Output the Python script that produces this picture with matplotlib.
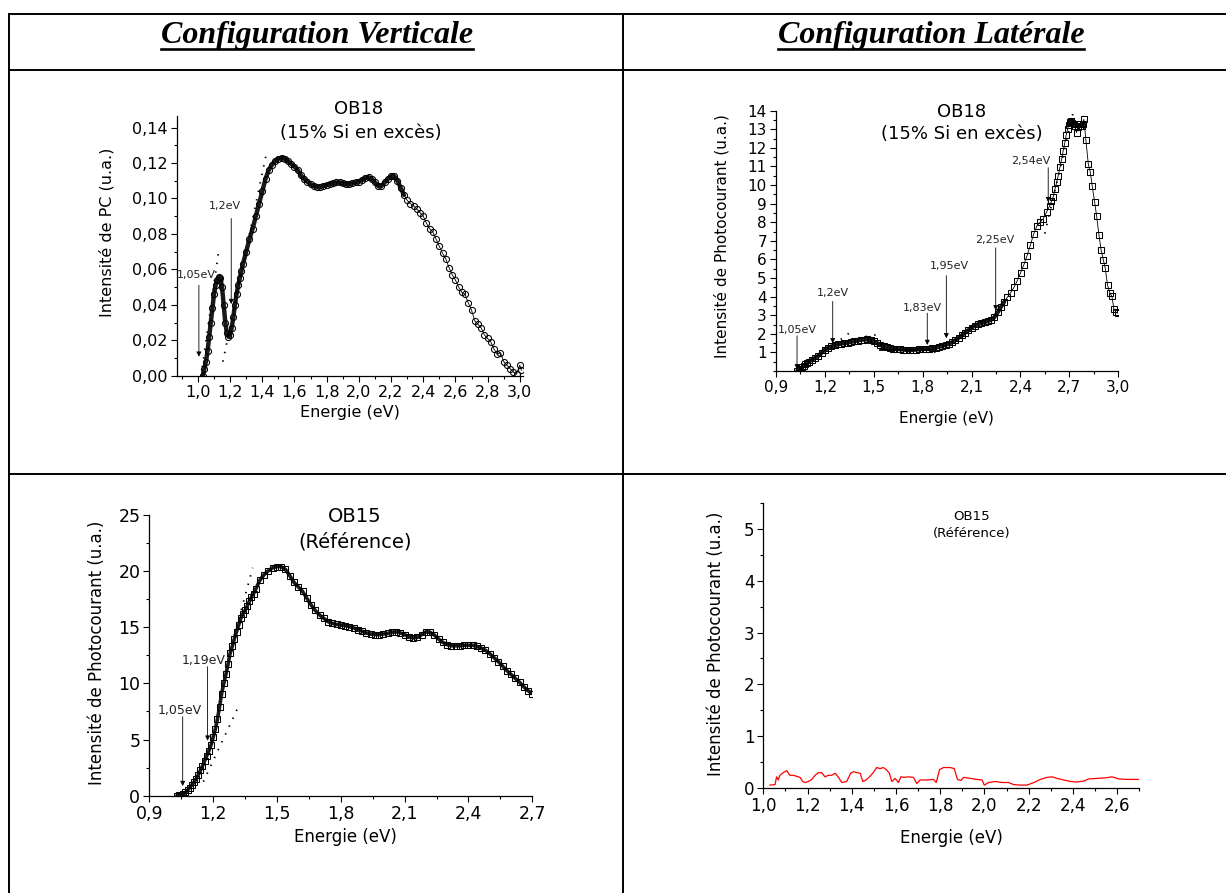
import numpy as np
import matplotlib
matplotlib.use('Agg')
import matplotlib.pyplot as plt
from matplotlib.lines import Line2D
from matplotlib.ticker import MultipleLocator, FixedLocator, FuncFormatter

# OB18 configuration verticale (intensité de PC)
e_v18 = [1.03, 1.04, 1.05, 1.06, 1.07, 1.08, 1.09, 1.10, 1.11, 1.12, 1.13, 1.14, 1.15, 1.16,
         1.17, 1.18, 1.19, 1.20, 1.21, 1.22, 1.23, 1.24, 1.25, 1.26, 1.27, 1.28, 1.30, 1.32,
         1.34, 1.36, 1.38, 1.40, 1.42, 1.44, 1.46, 1.48, 1.50, 1.52, 1.54, 1.56, 1.58, 1.60,
         1.62, 1.64, 1.66, 1.68, 1.70, 1.72, 1.74, 1.76, 1.78, 1.80, 1.82, 1.84, 1.86, 1.88,
         1.90, 1.92, 1.94, 1.96, 1.98, 2.00, 2.02, 2.04, 2.06, 2.08, 2.10, 2.12, 2.14, 2.16,
         2.18, 2.20, 2.22, 2.24, 2.26, 2.28, 2.30, 2.32, 2.34, 2.36, 2.38, 2.40, 2.42, 2.44,
         2.46, 2.48, 2.50, 2.52, 2.54, 2.56, 2.58, 2.60, 2.62, 2.64, 2.66, 2.68, 2.70, 2.72,
         2.74, 2.76, 2.78, 2.80, 2.82, 2.84, 2.86, 2.88, 2.90, 2.92, 2.94, 2.96, 2.98, 3.00, 3.01]
i_v18 = [0.000, 0.004, 0.008, 0.014, 0.022, 0.030, 0.038, 0.046, 0.051, 0.054, 0.0555, 0.055,
         0.050, 0.040, 0.030, 0.024, 0.022, 0.023, 0.027, 0.033, 0.040, 0.046, 0.051, 0.055,
         0.059, 0.063, 0.070, 0.077, 0.083, 0.090, 0.097, 0.104, 0.111, 0.116, 0.119, 0.121,
         0.1225, 0.123, 0.1225, 0.121, 0.1195, 0.118, 0.116, 0.113, 0.111, 0.1095, 0.108, 0.107,
         0.1065, 0.1065, 0.107, 0.1075, 0.108, 0.1085, 0.109, 0.109, 0.1085, 0.108, 0.108,
         0.1085, 0.109, 0.1095, 0.1105, 0.1115, 0.112, 0.111, 0.109, 0.107, 0.107, 0.109, 0.111,
         0.1125, 0.1125, 0.110, 0.106, 0.102, 0.099, 0.097, 0.096, 0.094, 0.092, 0.090, 0.086,
         0.083, 0.081, 0.077, 0.073, 0.069, 0.066, 0.061, 0.057, 0.054, 0.050, 0.047, 0.046,
         0.041, 0.037, 0.031, 0.029, 0.027, 0.023, 0.021, 0.019, 0.015, 0.012, 0.013, 0.008,
         0.006, 0.004, 0.002, 0.001, 0.006, 0.003]

# OB18 configuration latérale
e_l18 = [1.03, 1.04, 1.05, 1.06, 1.07, 1.08, 1.09, 1.10, 1.12, 1.14, 1.16, 1.18, 1.20, 1.22,
         1.24, 1.26, 1.28, 1.30, 1.32, 1.34, 1.36, 1.38, 1.40, 1.42, 1.44, 1.46, 1.48, 1.50,
         1.52, 1.54, 1.56, 1.58, 1.60, 1.62, 1.64, 1.66, 1.68, 1.70, 1.72, 1.74, 1.76, 1.78,
         1.80, 1.82, 1.84, 1.86, 1.88, 1.90, 1.92, 1.94, 1.96, 1.98, 2.00, 2.02, 2.04, 2.06,
         2.08, 2.10, 2.12, 2.14, 2.16, 2.18, 2.20, 2.22, 2.24, 2.26, 2.28, 2.30, 2.32, 2.34,
         2.36, 2.38, 2.40, 2.42, 2.44, 2.46, 2.48, 2.50, 2.52, 2.54, 2.56, 2.58, 2.59, 2.60,
         2.611, 2.622, 2.631, 2.642, 2.652, 2.662, 2.672, 2.68, 2.689, 2.696, 2.703, 2.711,
         2.719, 2.727, 2.734, 2.744, 2.751, 2.758, 2.767, 2.775, 2.782, 2.789, 2.801, 2.816,
         2.828, 2.84, 2.855, 2.867, 2.881, 2.894, 2.908, 2.92, 2.934, 2.949, 2.961, 2.973,
         2.986, 2.996]
i_l18 = [0.00, 0.05, 0.12, 0.20, 0.28, 0.36, 0.44, 0.50, 0.60, 0.70, 0.82, 0.98, 1.15, 1.25,
         1.32, 1.38, 1.43, 1.47, 1.50, 1.53, 1.56, 1.60, 1.64, 1.67, 1.69, 1.70, 1.67, 1.60,
         1.50, 1.40, 1.33, 1.28, 1.24, 1.21, 1.19, 1.17, 1.15, 1.13, 1.12, 1.13, 1.15, 1.17,
         1.18, 1.19, 1.21, 1.23, 1.26, 1.30, 1.35, 1.40, 1.46, 1.55, 1.66, 1.78, 1.92, 2.06,
         2.20, 2.33, 2.44, 2.52, 2.58, 2.63, 2.68, 2.76, 2.90, 3.15, 3.45, 3.72, 3.97, 4.22,
         4.50, 4.85, 5.27, 5.70, 6.20, 6.75, 7.35, 7.80, 8.00, 8.20, 8.55, 8.90, 9.14, 9.35,
         9.77, 10.15, 10.49, 10.95, 11.38, 11.85, 12.28, 12.70, 13.00, 13.25, 13.40, 13.45,
         13.36, 13.30, 13.18, 12.82, 13.10, 13.27, 13.20, 13.18, 13.30, 13.54, 12.43, 11.12,
         10.70, 9.95, 9.08, 8.33, 7.34, 6.53, 5.99, 5.52, 4.62, 4.19, 4.01, 3.33,
         3.15, 3.11]

# OB15 configuration verticale
e_v15 = [1.03, 1.04, 1.05, 1.06, 1.07, 1.08, 1.09, 1.10, 1.11, 1.12, 1.13, 1.14, 1.15, 1.16,
         1.17, 1.18, 1.19, 1.20, 1.21, 1.22, 1.23, 1.24, 1.25, 1.26, 1.27, 1.28, 1.29, 1.30,
         1.31, 1.32, 1.33, 1.34, 1.35, 1.36, 1.37, 1.38, 1.39, 1.40, 1.42, 1.44, 1.46, 1.48,
         1.50, 1.52, 1.54, 1.56, 1.58, 1.60, 1.62, 1.64, 1.66, 1.68, 1.70, 1.72, 1.74, 1.76,
         1.78, 1.80, 1.82, 1.84, 1.86, 1.88, 1.90, 1.92, 1.94, 1.96, 1.98, 2.00, 2.02, 2.04,
         2.06, 2.08, 2.10, 2.12, 2.14, 2.16, 2.18, 2.20, 2.22, 2.24, 2.26, 2.28, 2.30, 2.32,
         2.34, 2.36, 2.38, 2.40, 2.42, 2.44, 2.46, 2.48, 2.50, 2.52, 2.54, 2.56, 2.58, 2.60,
         2.62, 2.64, 2.66, 2.68, 2.70]
i_v15 = [0.00, 0.03, 0.08, 0.15, 0.30, 0.50, 0.72, 0.95, 1.20, 1.50, 1.85, 2.25, 2.65, 3.10,
         3.55, 4.00, 4.50, 5.20, 5.90, 6.80, 7.90, 9.10, 10.00, 10.80, 11.70, 12.70, 13.30,
         14.00, 14.60, 15.20, 15.80, 16.20, 16.50, 16.90, 17.30, 17.70, 18.00, 18.40, 19.20,
         19.70, 20.05, 20.30, 20.40, 20.40, 20.15, 19.60, 19.00, 18.60, 18.20, 17.60, 17.00,
         16.50, 16.10, 15.80, 15.50, 15.35, 15.25, 15.20, 15.15, 15.05, 14.95, 14.80, 14.65,
         14.50, 14.40, 14.35, 14.35, 14.40, 14.45, 14.55, 14.60, 14.50, 14.35, 14.15, 14.05,
         14.10, 14.35, 14.60, 14.55, 14.30, 13.95, 13.65, 13.45, 13.35, 13.35, 13.35, 13.40,
         13.40, 13.40, 13.30, 13.15, 12.95, 12.65, 12.30, 11.95, 11.55, 11.15, 10.80, 10.45,
         10.10, 9.70, 9.35, 9.10]

# OB15 configuration latérale
e_l15 = [1.03, 1.053, 1.06, 1.068, 1.075, 1.09, 1.106, 1.12, 1.136, 1.151, 1.166, 1.178,
         1.189, 1.204, 1.219, 1.234, 1.249, 1.264, 1.279, 1.294, 1.309, 1.325, 1.34, 1.355,
         1.377, 1.395, 1.408, 1.423, 1.438, 1.45, 1.465, 1.48, 1.495, 1.513, 1.528, 1.543,
         1.558, 1.57, 1.581, 1.596, 1.611, 1.622, 1.637, 1.657, 1.679, 1.694, 1.709, 1.74,
         1.77, 1.782, 1.797, 1.815, 1.845, 1.863, 1.878, 1.894, 1.906, 1.936, 1.966, 1.989,
         1.999, 2.019, 2.049, 2.079, 2.109, 2.132, 2.162, 2.192, 2.223, 2.253, 2.283, 2.306,
         2.328, 2.358, 2.389, 2.419, 2.449, 2.472, 2.509, 2.547, 2.577, 2.608, 2.645, 2.698]
i_l15 = [0.05, 0.06, 0.21, 0.15, 0.24, 0.29, 0.33, 0.24, 0.24, 0.22, 0.20, 0.12, 0.10, 0.12,
         0.16, 0.24, 0.29, 0.29, 0.21, 0.24, 0.24, 0.28, 0.20, 0.10, 0.12, 0.28, 0.31, 0.29,
         0.28, 0.12, 0.15, 0.21, 0.28, 0.39, 0.37, 0.39, 0.34, 0.28, 0.12, 0.18, 0.10, 0.21,
         0.20, 0.21, 0.20, 0.08, 0.15, 0.15, 0.16, 0.10, 0.35, 0.39, 0.39, 0.37, 0.16, 0.14,
         0.20, 0.18, 0.16, 0.15, 0.05, 0.10, 0.12, 0.10, 0.10, 0.06, 0.05, 0.05, 0.10, 0.16,
         0.20, 0.21, 0.18, 0.15, 0.12, 0.11, 0.13, 0.17, 0.18, 0.19, 0.21, 0.17, 0.16, 0.16]

plt.rcParams['font.family'] = 'DejaVu Sans'
W, H = 1226, 893
fig = plt.figure(figsize=(W / 100, H / 100), dpi=100)


def fx(x):
    return x / W


def fy(y):
    return 1 - y / H


def box(l, t, r, b):
    return fig.add_axes([fx(l), fy(b), (r - l) / W, (b - t) / H])


def comma(fmt):
    return FuncFormatter(lambda v, p: (fmt % v).replace('.', ','))


def style(ax, xlim, ylim, xmaj, xmin, ymaj, ymin, xfmt, yfmt, fs):
    ax.set_xlim(*xlim)
    ax.set_ylim(*ylim)
    for s in ['top', 'right']:
        ax.spines[s].set_visible(False)
    for s in ['left', 'bottom']:
        ax.spines[s].set_linewidth(0.9)
    ax.xaxis.set_major_locator(xmaj)
    ax.xaxis.set_minor_locator(MultipleLocator(xmin))
    ax.yaxis.set_major_locator(ymaj)
    ax.yaxis.set_minor_locator(MultipleLocator(ymin))
    ax.xaxis.set_major_formatter(comma(xfmt))
    ax.yaxis.set_major_formatter(comma(yfmt))
    ax.tick_params(which='major', direction='out', length=4.5, width=0.8, labelsize=fs, pad=2)
    ax.tick_params(which='minor', direction='out', length=2.5, width=0.8)
    ax.patch.set_alpha(0)


def ftext(x, y, s, size, **kw):
    fig.text(fx(x), fy(y), s, fontsize=size, ha=kw.pop('ha', 'center'),
             va=kw.pop('va', 'center'), **kw)


def arrow(ax, x, y0, y1, label, lx, ly, fs=8):
    ax.annotate('', xy=(x, y1), xytext=(x, y0),
                arrowprops=dict(arrowstyle='-|>', color='k', lw=0.6, mutation_scale=7,
                                shrinkA=0, shrinkB=0))
    ax.text(lx, ly, label, fontsize=fs, ha='center', va='center', color='#222222')


def series(ax, e, i, marker, n_dense, band):
    # partie dense : points serrés qui forment une bande sombre
    ax.plot(e[:n_dense + 1], i[:n_dense + 1], '-', color='#1a1a1a', lw=band,
            solid_capstyle='round')
    ax.plot(e[n_dense:], i[n_dense:], '-', color='k', lw=0.6)
    ax.plot(e, i, marker, mfc='none', mec='k', ms=4.4 if marker == 'o' else 3.9, mew=0.75)


dots = dict(color='k', lw=1.3, ls=(0, (0.8, 4)))

# ---- tableau ----
lw_tab = 1.4
for y in [14, 70, 474]:
    fig.add_artist(Line2D([fx(9), 1], [fy(y), fy(y)], color='k', lw=lw_tab))
for x in [9, 623]:
    fig.add_artist(Line2D([fx(x), fx(x)], [fy(14), 0], color='k', lw=lw_tab))

heads = []
for x, s in [(317, 'Configuration Verticale'), (931, 'Configuration Latérale')]:
    t = fig.text(fx(x), fy(43.5), s, fontsize=23, family='Liberation Serif',
                 weight='bold', style='italic', ha='center', va='baseline')
    heads.append(t)
fig.canvas.draw()
rend = fig.canvas.get_renderer()
for t in heads:
    bb = t.get_window_extent(rend)
    fig.add_artist(Line2D([bb.x0 / W, bb.x1 / W], [fy(49), fy(49)], color='k', lw=1.9))

# ---- OB18 vertical ----
ax1 = box(177, 116, 523, 375.7)
style(ax1, (0.87, 3.02), (0, 0.1465), MultipleLocator(0.2), 0.1, MultipleLocator(0.02), 0.01,
      '%.1f', '%.2f', 11.5)
series(ax1, e_v18, i_v18, 'o', e_v18.index(2.28), 3.2)
ax1.plot([1.02, 1.13], [0.0, 0.071], **dots)
ax1.plot([1.155, 1.429], [0.0079, 0.1269], **dots)
arrow(ax1, 1.006, 0.051, 0.0107, '1,05eV', 0.99, 0.0568)
arrow(ax1, 1.207, 0.0887, 0.0404, '1,2eV', 1.17, 0.0957)
ftext(359, 109, 'OB18', 13)
ftext(361, 133.3, '(15% Si en excès)', 13)
ftext(350.3, 412.3, 'Energie (eV)', 11.5)
ftext(106.7, 232.3, 'Intensité de PC (u.a.)', 11.5, rotation=90)

# ---- OB18 latéral ----
ax2 = box(776, 110.7, 1118.3, 371)
style(ax2, (0.9, 3.0), (0, 14), MultipleLocator(0.3), 0.15, FixedLocator(range(1, 15)), 0.5,
      '%.1f', '%d', 11)
series(ax2, e_l18, i_l18, 's', e_l18.index(2.3), 3.0)
ax2.plot([1.0, 1.37], [-0.27, 2.18], **dots)
ax2.plot([1.45, 1.55], [1.85, 2.0], **dots)
ax2.plot([1.535, 1.87], [1.13, 1.13], color='k', lw=1.3)
ax2.plot([1.87, 1.96], [1.0, 1.45], **dots)
ax2.plot([2.16, 2.27], [2.45, 3.1], **dots)
ax2.plot([2.549, 2.723], [7.39, 13.9], **dots)
arrow(ax2, 1.029, 1.89, 0.09, '1,05eV', 1.033, 2.21)
arrow(ax2, 1.248, 3.74, 1.49, '1,2eV', 1.252, 4.19)
arrow(ax2, 1.828, 3.11, 1.40, '1,83eV', 1.797, 3.38)
arrow(ax2, 1.945, 5.13, 1.76, '1,95eV', 1.961, 5.67)
arrow(ax2, 2.248, 6.62, 3.26, '2,25eV', 2.242, 7.07)
arrow(ax2, 2.57, 10.94, 9.08, '2,54eV', 2.461, 11.29)
ftext(962, 111.7, 'OB18', 13)
ftext(962, 134, '(15% Si en excès)', 13)
ftext(946.7, 418.3, 'Energie (eV)', 11)
ftext(721.7, 235.7, 'Intensité de Photocourant (u.a.)', 11, rotation=90)

# ---- OB15 vertical ----
ax3 = box(149.3, 515, 532.3, 795.7)
style(ax3, (0.9, 2.7), (0, 25), MultipleLocator(0.3), 0.15, MultipleLocator(5), 2.5,
      '%.1f', '%d', 12.5)
series(ax3, e_v15, i_v15, 's', len(e_v15) - 1, 2.6)
ax3.plot([1.154, 1.318], [1.25, 7.9], **dots)
ax3.plot([1.30, 1.386], [14.3, 20.3], **dots)
arrow(ax3, 1.057, 7.04, 0.86, '1,05eV', 1.041, 7.63, fs=9)
arrow(ax3, 1.174, 11.49, 4.9, '1,19eV', 1.157, 12.08, fs=9)
ftext(355, 516.7, 'OB15', 14)
ftext(355, 542.3, '(Référence)', 14)
ftext(345.7, 836.7, 'Energie (eV)', 12)
ftext(96.7, 653.3, 'Intensité de Photocourant (u.a.)', 12, rotation=90)

# ---- OB15 latéral ----
ax4 = box(763.3, 503.3, 1139.3, 787.7)
style(ax4, (1.0, 2.7), (0, 5.5), MultipleLocator(0.2), 0.1, MultipleLocator(1), 0.5,
      '%.1f', '%d', 12)
ax4.plot(e_l15, i_l15, '-', color='red', lw=0.9)
ftext(971.7, 516, 'OB15', 9.5)
ftext(971.7, 534, '(Référence)', 9.5)
ftext(951.7, 838.3, 'Energie (eV)', 12)
ftext(715.7, 644, 'Intensité de Photocourant (u.a.)', 12, rotation=90)

fig.savefig('out.png', dpi=100)
